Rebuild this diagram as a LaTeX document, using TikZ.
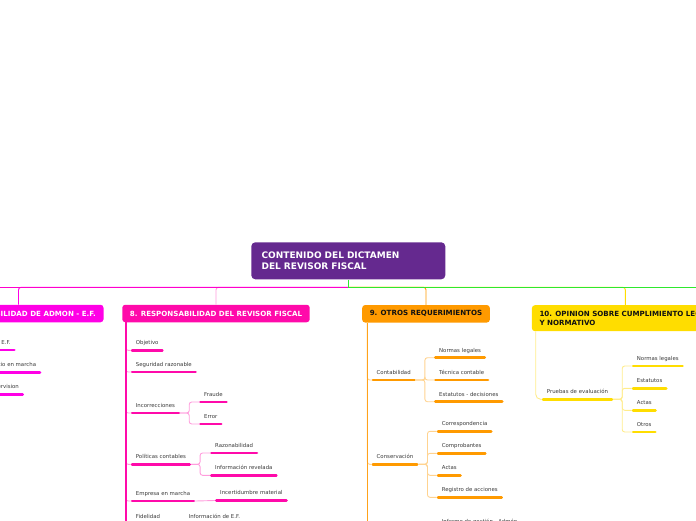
\documentclass[tikz,border=0pt]{standalone}
\usepackage{fontspec}
\setmainfont{DejaVu Sans}
\usepackage{xcolor}
\usetikzlibrary{positioning, calc}

\definecolor{rootpurple}{HTML}{65298F}
\definecolor{admonpink}{HTML}{FF00E6}
\definecolor{hubpink}{HTML}{FF00CC}
\definecolor{revpink}{HTML}{FF0AAA}
\definecolor{revlight}{HTML}{FF9CDC}
\definecolor{otrorange}{HTML}{FF9A00}
\definecolor{otrstem}{HTML}{FFA21A}
\definecolor{otrlight}{HTML}{FFD390}
\definecolor{opinyellow}{HTML}{FFDD00}
\definecolor{opinlight}{HTML}{FFEC8C}
\definecolor{hubgreen}{HTML}{2EE82E}
\definecolor{labelgray}{HTML}{3A3A3A}
\definecolor{boxtext}{HTML}{111111}

\begin{document}
\begin{tikzpicture}[
    x=1pt, y=-1pt,
    root/.style={fill=rootpurple, rounded corners=4pt, text width=173.4pt, inner xsep=10.3pt, minimum height=37pt, align=left, text=white, font=\fontsize{9}{11}\selectfont\bfseries},
    mainbox/.style={fill=#1, rounded corners=3pt, minimum height=17.5pt, inner xsep=7.6pt, inner ysep=2pt, text=boxtext, font=\fontsize{7.1}{8.5}\selectfont\bfseries},
    topic/.style={anchor=south west, inner xsep=5pt, inner ysep=0pt, text depth=5.5pt, text=labelgray, font=\fontsize{5.4}{6.5}\selectfont,
        append after command={(\tikzlastnode.south west) edge[draw=#1, line width=2.8pt, line cap=round, shorten <=1.4pt, shorten >=1.4pt] (\tikzlastnode.south east)}},
    link/.style={draw=#1, line width=0.9pt, rounded corners=2.5pt},
    stem/.style={draw=#1, line width=1.8pt}
]
    \useasboundingbox (0,0) rectangle (696,520);
    \clip (0,0) rectangle (696,520);

    % --- Central topic ---
    \node[root] (root) at (348.3,260.8) {CONTENIDO DEL DICTAMEN\\DEL REVISOR FISCAL};

    % --- Main branches ---
    \node[mainbox=admonpink, text=white, anchor=east] (admon) at (103.7,313.5) {7. RESPONSABILIDAD DE ADMON - E.F.};
    \node[mainbox=revpink, text=white] (rev) at (216,313.5) {8. RESPONSABILIDAD DEL REVISOR FISCAL};
    \node[mainbox=otrorange] (otros) at (426,313.8) {9. OTROS REQUERIMIENTOS};
    \node[mainbox=opinyellow, anchor=north west, align=left, minimum height=26pt] (opin) at (531.7,305) {10. OPINION SOBRE CUMPLIMIENTO LEGAL\\Y NORMATIVO};

    % --- Hub lines ---
    \coordinate (hub) at (348.3,287.3);
    \coordinate (westend) at (0,287.3);
    \coordinate (eastend) at (696,287.3);
    \draw[link=admonpink] (admon.north) |- (hub);
    \draw[link=revlight] (rev.north) |- (hub);
    \draw[link=otrorange] (otros.north) |- (hub);
    \draw[link=opinyellow] (opin.north) |- (hub);
    \draw[draw=hubpink, line width=1pt] (hub) -- (westend);
    \draw[draw=hubgreen, line width=1pt] (root.south) |- (eastend);

    % --- 7. Admon (cut off at the left) ---
    \node[topic=admonpink, anchor=south east] (prep) at (15.7,350) {Preparación E.F.};
    \node[topic=admonpink, anchor=south east] (neg) at (41.3,372.3) {Negocio en marcha};
    \node[topic=admonpink, anchor=south east] (sup) at (24,394.3) {Supervision};

    % --- 8. Revisor fiscal ---
    \node[topic=revpink] (obj) at (130.7,350.3) {Objetivo};
    \node[topic=revpink] (seg) at (130.7,372) {Seguridad razonable};
    \node[topic=revpink] (inc) at (130.7,413) {Incorrecciones};
    \node[topic=revpink] (fra) at (199,402) {Fraude};
    \node[topic=revpink] (err) at (199,424) {Error};
    \node[topic=revpink] (pol) at (130.7,464.3) {Políticas contables};
    \node[topic=revpink] (raz) at (210,453) {Razonabilidad};
    \node[topic=revpink] (infrev) at (210,475.3) {Información revelada};
    \node[topic=revpink] (empm) at (130.7,501) {Empresa en marcha};
    \node[topic=revpink] (incm) at (215,500.5) {Incertidumbre material};
    \node[topic=revpink] (fid) at (130.7,524) {Fidelidad};
    \node[topic=revpink] (infef) at (183.5,524) {Información de E.F.};

    \coordinate (revtop) at (rev.south west -| 125.7,0);
    \coordinate (revend) at (125.7,530);
    \draw[link=revlight] (revtop) |- (obj.south west);
    \draw[link=revlight] (revtop) |- (seg.south west);
    \draw[link=revlight] (revtop) |- (inc.south west);
    \draw[link=revlight] (revtop) |- (pol.south west);
    \draw[link=revlight] (revtop) |- (empm.south west);
    \draw[link=revlight] (revtop) |- (fid.south west);
    \draw[stem=revpink] (revtop) -- (revend);

    \draw[link=revlight] (inc.south east) -- ++(9,0) |- (fra.south west);
    \draw[link=revlight] (inc.south east) -- ++(9,0) |- (err.south west);
    \draw[link=revlight] (pol.south east) -- ++(9,0) |- (raz.south west);
    \draw[link=revlight] (pol.south east) -- ++(9,0) |- (infrev.south west);
    \draw[link=revlight] (empm.south east) -- (incm.south west);
    \draw[link=revlight] (fid.south east) -- (infef.south west);

    % --- 9. Otros requerimientos ---
    \node[topic=otrorange] (cont) at (371.5,380) {Contabilidad};
    \node[topic=otrorange] (norm) at (434,357.7) {Normas legales};
    \node[topic=otrorange] (tec) at (434,380) {Técnica contable};
    \node[topic=otrorange] (estd) at (434,401.7) {Estatutos - decisiones};
    \node[topic=otrorange] (cons) at (371.5,464.3) {Conservación};
    \node[topic=otrorange] (corr) at (436.7,431.3) {Correspondencia};
    \node[topic=otrorange] (comp) at (436.7,453.3) {Comprobantes};
    \node[topic=otrorange] (act) at (436.7,475.3) {Actas};
    \node[topic=otrorange] (reg) at (436.7,497.3) {Registro de acciones};
    \node[topic=otrorange] (infg) at (436.7,529) {Informe de gestión - Admón};

    \coordinate (otrtop) at (otros.south west -| 367.3,0);
    \coordinate (otrend) at (367.3,530);
    \draw[link=otrlight] (otrtop) |- (cont.south west);
    \draw[link=otrlight] (otrtop) |- (cons.south west);
    \draw[stem=otrstem, line width=1.5pt] (otrtop) -- (otrend);

    \draw[link=otrlight] (cont.south east) -- ++(9,0) |- (norm.south west);
    \draw[link=otrlight] (cont.south east) -- ++(9,0) |- (tec.south west);
    \draw[link=otrlight] (cont.south east) -- ++(9,0) |- (estd.south west);
    \draw[link=otrlight] (cons.south east) -- ++(9,0) |- (corr.south west);
    \draw[link=otrlight] (cons.south east) -- ++(9,0) |- (comp.south west);
    \draw[link=otrlight] (cons.south east) -- ++(9,0) |- (act.south west);
    \draw[link=otrlight] (cons.south east) -- ++(9,0) |- (reg.south west);

    % --- 10. Opinion ---
    \node[topic=opinyellow] (prue) at (541.7,399.3) {Pruebas de evaluación};
    \node[topic=opinyellow] (nleg) at (631.7,366) {Normas legales};
    \node[topic=opinyellow] (estt) at (631.7,388.3) {Estatutos};
    \node[topic=opinyellow] (acto) at (631.7,410.3) {Actas};
    \node[topic=opinyellow] (otro) at (631.7,432) {Otros};

    \draw[link=opinlight, rounded corners=5pt] (opin.south west -| 535.7,0) |- (prue.south west);
    \draw[link=opinlight] (prue.south east) -- ++(9,0) |- (nleg.south west);
    \draw[link=opinlight] (prue.south east) -- ++(9,0) |- (estt.south west);
    \draw[link=opinlight] (prue.south east) -- ++(9,0) |- (acto.south west);
    \draw[link=opinlight] (prue.south east) -- ++(9,0) |- (otro.south west);

\end{tikzpicture}
\end{document}
